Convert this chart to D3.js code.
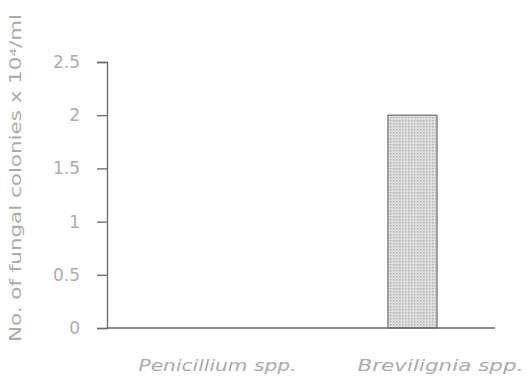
<!DOCTYPE html>
<html><head><meta charset="utf-8">
<script src="https://cdn.jsdelivr.net/npm/d3@7"></script>
<style>body{margin:0;background:#fff}svg{display:block}</style>
</head><body>
<script>
const categories = ["Penicillium spp.", "Brevilignia spp."];
const values = [0, 2];
const yTicks = [0, 0.5, 1, 1.5, 2, 2.5];
const yLabel = "No. of fungal colonies x 10\u2074/ml";

const W = 530, H = 383;
const svg = d3.select("body").append("svg").attr("width", W).attr("height", H);
const font = "'DejaVu Sans', sans-serif";
const textCol = "#acacac", axisCol = "#6a6a6a";

const x = d3.scaleBand().domain(categories).range([107, 495]).paddingInner(0.78).paddingOuter(0.26);
const y = d3.scaleLinear().domain([0, 2.5]).range([328, 62]);

const defs = svg.append("defs");
const pat = defs.append("pattern").attr("id", "dots").attr("width", 3).attr("height", 3).attr("patternUnits", "userSpaceOnUse");
pat.append("rect").attr("width", 3).attr("height", 3).attr("fill", "#dedede");
pat.append("rect").attr("width", 1.5).attr("height", 1.5).attr("fill", "#b8b8b8");

svg.selectAll(".bar").data(values).join("rect")
  .attr("x", (d, i) => x(categories[i]))
  .attr("y", d => y(d))
  .attr("width", x.bandwidth())
  .attr("height", d => y(0) - y(d))
  .attr("fill", "url(#dots)")
  .attr("stroke", d => d > 0 ? "#777" : "none")
  .attr("stroke-width", 1.3);

const yAxis = d3.axisLeft(y).tickValues(yTicks).tickSize(10).tickPadding(17).tickFormat(d3.format("~g"));
const gy = svg.append("g").attr("transform", "translate(107,0)").call(yAxis);
gy.select(".domain").attr("stroke", axisCol).attr("stroke-width", 1.3);
gy.selectAll(".tick line").attr("stroke", axisCol).attr("stroke-width", 1.3);
gy.selectAll(".tick text").attr("fill", textCol).attr("font-family", font).attr("font-size", 17);

svg.append("line").attr("x1", 107).attr("x2", 495).attr("y1", y(0)).attr("y2", y(0))
  .attr("stroke", axisCol).attr("stroke-width", 1.3);

svg.selectAll(".cat").data(categories).join("text")
  .attr("x", d => x(d) + x.bandwidth() / 2 + 28)
  .attr("y", 371)
  .attr("text-anchor", "middle")
  .attr("font-family", font).attr("font-style", "italic").attr("font-size", 16)
  .attr("textLength", (d, i) => i === 0 ? 158 : 166).attr("lengthAdjust", "spacingAndGlyphs")
  .attr("fill", textCol)
  .text(d => d);

svg.append("text")
  .attr("transform", "translate(21,178) rotate(-90)")
  .attr("text-anchor", "middle")
  .attr("font-family", font).attr("font-size", 16)
  .attr("textLength", 328).attr("lengthAdjust", "spacingAndGlyphs")
  .attr("fill", textCol)
  .text(yLabel);
</script>
</body></html>
